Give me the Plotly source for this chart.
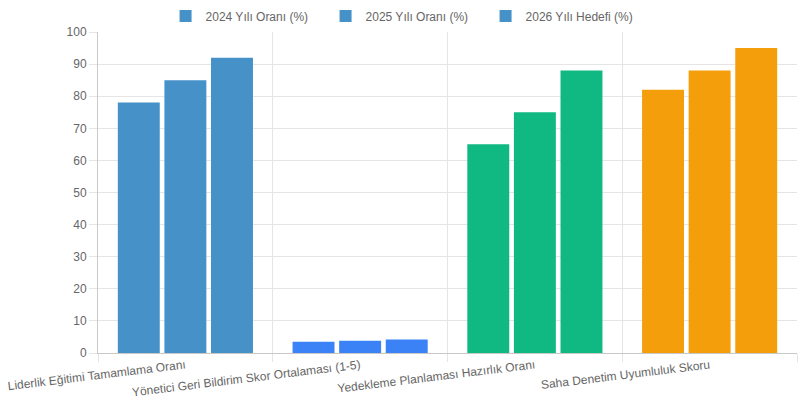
import plotly.graph_objects as go

categories = [
    "Liderlik Eğitimi Tamamlama Oranı",
    "Yönetici Geri Bildirim Skor Ortalaması (1-5)",
    "Yedekleme Planlaması Hazırlık Oranı",
    "Saha Denetim Uyumluluk Skoru",
]
series_names = ["2024 Yılı Oranı (%)", "2025 Yılı Oranı (%)", "2026 Yılı Hedefi (%)"]
values_2024 = [78, 3.5, 65, 82]
values_2025 = [85, 3.8, 75, 88]
values_2026 = [92, 4.2, 88, 95]

# one colour per category, shared across the three series
cat_colors = ["#4591c8", "#3b82f6", "#10b981", "#f59e0b"]

fig = go.Figure()
for name, vals in zip(series_names, [values_2024, values_2025, values_2026]):
    fig.add_trace(go.Bar(
        x=categories,
        y=vals,
        name=name,
        marker=dict(color=cat_colors, line=dict(width=0)),
    ))

fig.update_layout(
    width=800,
    height=400,
    barmode="group",
    bargap=0.2,
    bargroupgap=0.1,
    plot_bgcolor="white",
    paper_bgcolor="white",
    font=dict(family="Liberation Sans, Arial, sans-serif", size=12, color="#666"),
    margin=dict(l=98, r=3, t=32, b=47, autoexpand=False),
    legend=dict(
        orientation="h",
        x=0.44, xanchor="center",
        y=1.05, yanchor="middle",
        font=dict(size=12, color="#666"),
        entrywidth=115,
        itemclick=False,
    ),
    xaxis=dict(
        tickson="boundaries",
        showgrid=True,
        gridcolor="#e5e5e5",
        ticks="outside",
        ticklen=8,
        tickcolor="#e5e5e5",
        tickangle=-7,
        ticklabelstandoff=0,
        showline=True,
        linecolor="#c8c8c8",
        linewidth=1,
        automargin=False,
    ),
    yaxis=dict(
        range=[0, 100],
        dtick=10,
        gridcolor="#e5e5e5",
        ticks="outside",
        ticklen=8,
        tickcolor="#e5e5e5",
        showline=True,
        linecolor="#c8c8c8",
        zeroline=False,
        automargin=False,
    ),
)

# drop the default 8px page margin so the figure sits at the window corner
fig.write_html(
    "out.html",
    config={"displayModeBar": False},
    post_script="document.body.style.margin='0';",
)
